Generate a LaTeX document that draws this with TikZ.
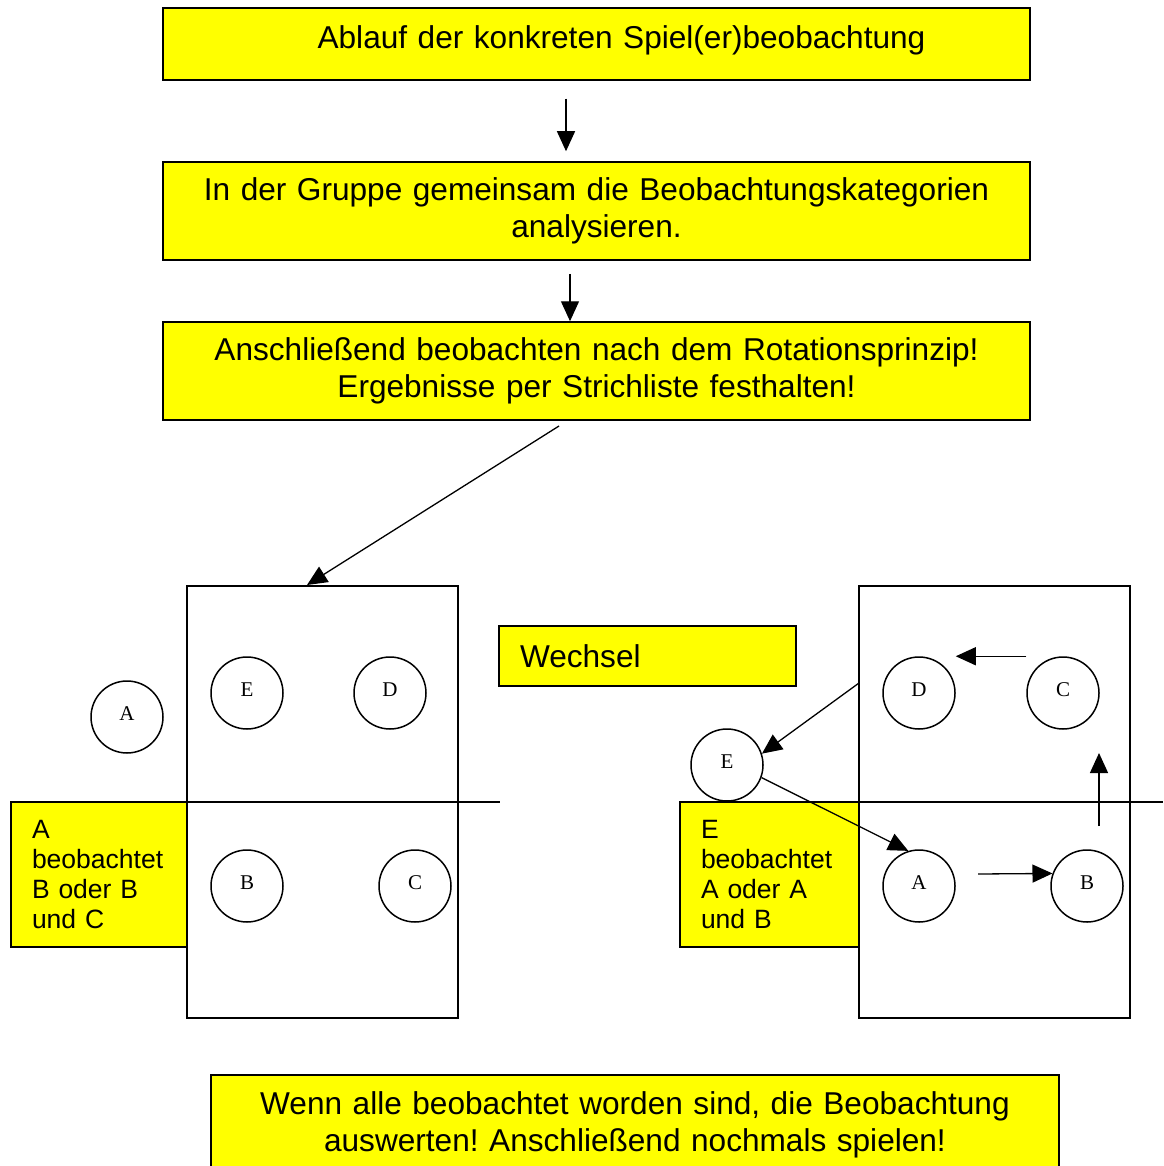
\documentclass[tikz,border=0pt]{standalone}
\usepackage{fontspec}
\setmainfont{Liberation Sans}
\newfontfamily\circfont{Liberation Serif}
\frenchspacing
\usetikzlibrary{arrows.meta}
\definecolor{boxyellow}{RGB}{255,255,0}
\pgfdeclarelayer{background}
\pgfsetlayers{background,main}

\begin{document}
\begin{tikzpicture}[x=1pt,y=-1pt,
					yellowbox/.style={rectangle, draw=black, line width=1.5pt, fill=boxyellow, inner sep=0pt, align=center, font=\fontsize{31.6}{37}\selectfont},
					notebox/.style={rectangle, draw=black, line width=1.5pt, fill=boxyellow, inner xsep=21pt, inner ysep=0pt, align=left, font=\fontsize{26.5}{30}\selectfont},
					field/.style={rectangle, draw=black, line width=1.5pt, inner sep=0pt, minimum width=271pt, minimum height=432pt},
					roundnode/.style={circle, draw=black, line width=1.5pt, fill=white, inner sep=0pt, minimum size=72pt, text depth=6pt, font=\circfont\fontsize{21}{21}\selectfont},
					arrow/.style={line width=1.3pt, -{Triangle[length=20pt,width=18pt]}},
					]
					\path[use as bounding box, clip] (0,0) rectangle (1163,1166);
					
					%Boxes
					\node[yellowbox, text width=867pt, minimum height=72pt, text depth=14pt] (ablauf) at (596.5,44) {\hspace*{50pt}Ablauf der konkreten Spiel(er)beobachtung};
					\node[yellowbox, text width=867pt, minimum height=98pt] (gruppe) at (596.5,211) {In der Gruppe gemeinsam die Beobachtungskategorien\\analysieren.};
					\node[yellowbox, text width=867pt, minimum height=98pt] (rotation) at (596.5,371) {Anschließend beobachten nach dem Rotationsprinzip!\\Ergebnisse per Strichliste festhalten!};
					\node[yellowbox, text width=848pt, minimum height=100pt] (auswerten) at (635,1125) {Wenn alle beobachtet worden sind, die Beobachtung\\auswerten! Anschließend nochmals spielen!};
					
					%Fields
					\node[field] (leftfield)  at (322.5,802) {};
					\node[field] (rightfield) at (994.5,802) {};
					\begin{pgfonlayer}{background}
					\draw[line width=1.5pt] (162,802) -- (500,802);
					\draw[line width=1.5pt] (833,802) -- (1163,802);
					\end{pgfonlayer}
					
					\node[notebox, text width=134pt, minimum height=145pt] (leftnote)  at (99,874.5)  {A\\beobachtet\\B oder B\\und C};
					\node[notebox, text width=137pt, minimum height=145pt] (rightnote) at (769.5,874.5) {E\\beobachtet\\A oder A\\und B};
					\node[notebox, text width=255pt, minimum height=60pt, font=\fontsize{31.6}{37}\selectfont] (wechsel) at (647.5,656) {Wechsel};
					
					%Players
					\node[roundnode] (lA) at (127,717) {A};
					\node[roundnode] (lE) at (247,693) {E};
					\node[roundnode] (lD) at (390,693) {D};
					\node[roundnode] (lB) at (247,886) {B};
					\node[roundnode] (lC) at (415,886) {C};
					
					\node[roundnode] (rD) at (919,693)  {D};
					\node[roundnode] (rC) at (1063,693) {C};
					\node[roundnode] (rE) at (727,765)  {E};
					\node[roundnode] (rA) at (919,886)  {A};
					\node[roundnode] (rB) at (1087,886) {B};
					
					%Lines
					\coordinate (rotstart) at (559,426);
					\coordinate (fieldtop) at (307,585);
					\coordinate (edgeD)    at (859,683);
					\coordinate (abstart)  at (978,874);
					\coordinate (bcstart)  at (1099,826);
					\coordinate (bcend)    at (1099,753);
					
					\draw[arrow, shorten <=18pt, shorten >=10pt] ([xshift=-30.5pt]ablauf.south) -- ([xshift=-30.5pt]gruppe.north);
					\draw[arrow, shorten <=13pt] ([xshift=-26.5pt]gruppe.south) -- ([xshift=-26.5pt]rotation.north);
					\draw[arrow] (rotstart) -- (fieldtop);
					
					\draw[arrow] (rC.west |- rC.north) -- (rD.east |- rD.north);
					\draw[arrow] (edgeD) -- (rE.18);
					\draw[arrow] (rE.-20) -- (rA.107);
					\draw[arrow] (abstart) -- (rB.160);
					\draw[arrow] (bcstart) -- (bcend);
				\end{tikzpicture}
\end{document}
